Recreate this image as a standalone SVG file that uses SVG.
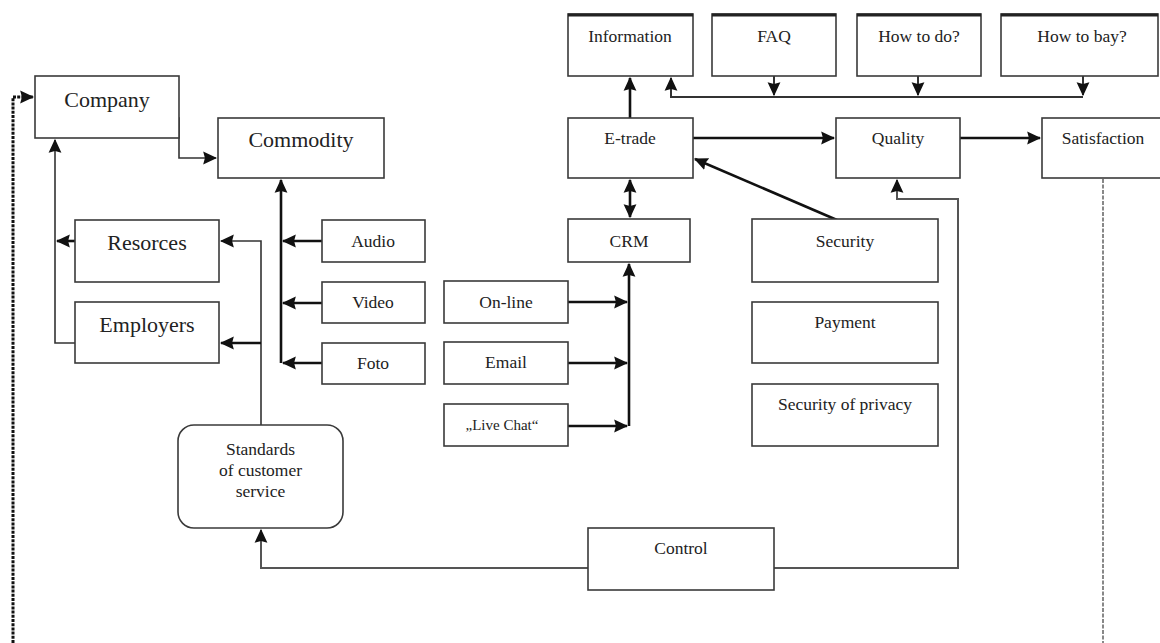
<svg xmlns="http://www.w3.org/2000/svg" width="1160" height="643" viewBox="0 0 1160 643">
<defs>
<marker id="ah" viewBox="0 0 12 12" refX="11" refY="6" markerWidth="14" markerHeight="14" markerUnits="userSpaceOnUse" orient="auto-start-reverse">
<path d="M0,0.5 L12,6 L0,11.5 L1.5,6 Z" fill="#111"/>
</marker>
</defs>
<style>
.box{fill:#fff;stroke:#3a3a3a;stroke-width:1.6}
.t{font-family:"Liberation Serif","Times New Roman",serif;fill:#222;text-anchor:middle}
.big{font-size:22px}
.mid{font-size:17.5px}
.sm{font-size:15px}
.c{fill:none;stroke:#111;stroke-width:2.6}
.cn{fill:none;stroke:#333;stroke-width:1.6}
.cg{fill:none;stroke:#555;stroke-width:2}
.top{stroke:#222;stroke-width:3}
</style>
<g id="connectors">
<path class="c" d="M13,643 V97 H33" style="stroke-dasharray:3 1.2;stroke-width:3" marker-end="url(#ah)"/>
<path class="cg" d="M1103,179 V643" style="stroke-dasharray:4 1.5;stroke:#888"/>
<path class="cn" d="M158,118 H179 V158 H216" marker-end="url(#ah)"/>
<path class="cn" d="M75,343 H55 V140" marker-end="url(#ah)"/>
<path class="c" d="M75,241 H57" marker-end="url(#ah)"/>
<path class="c" d="M281,363 V180" marker-end="url(#ah)"/>
<path class="c" d="M322,241 H283" marker-end="url(#ah)"/>
<path class="c" d="M322,303 H283" marker-end="url(#ah)"/>
<path class="c" d="M322,363 H283" marker-end="url(#ah)"/>
<path class="cn" d="M261,425 V241 H221" marker-end="url(#ah)"/>
<path class="c" d="M261,343 H221" marker-end="url(#ah)"/>
<path class="cg" d="M588,568 H261 V530" marker-end="url(#ah)"/>
<path class="cg" d="M774,568 H958 V199 H897 V180" marker-end="url(#ah)"/>
<path class="c" d="M630,180 V217" marker-start="url(#ah)" marker-end="url(#ah)"/>
<path class="c" d="M630,118 V78" marker-end="url(#ah)"/>
<path class="cn" d="M1083,97 H671 V78" style="stroke-width:2" marker-end="url(#ah)"/>
<path class="cn" d="M774,76 V95" style="stroke-width:2" marker-end="url(#ah)"/>
<path class="cn" d="M918,76 V95" style="stroke-width:2" marker-end="url(#ah)"/>
<path class="cn" d="M1083,76 V95" style="stroke-width:2" marker-end="url(#ah)"/>
<path class="c" d="M693,138 H834" marker-end="url(#ah)"/>
<path class="c" d="M960,138 H1040" marker-end="url(#ah)"/>
<path class="c" d="M837,220 L695,159" marker-end="url(#ah)"/>
<path class="c" d="M568,302 H627" marker-end="url(#ah)"/>
<path class="c" d="M568,363 H627" marker-end="url(#ah)"/>
<path class="c" d="M568,426 H627" marker-end="url(#ah)"/>
<path class="c" d="M629,426 V264" marker-end="url(#ah)"/>
</g>
<g id="company"><rect class="box" x="35" y="76" width="144" height="62"/><text class="t big" x="107" y="107">Company</text></g>
<g id="commodity"><rect class="box" x="218" y="118" width="166" height="60"/><text class="t big" x="301" y="147">Commodity</text></g>
<g id="resorces"><rect class="box" x="75" y="220" width="144" height="62"/><text class="t big" x="147" y="250">Resorces</text></g>
<g id="employers"><rect class="box" x="75" y="302" width="144" height="61"/><text class="t big" x="147" y="332">Employers</text></g>
<g id="audio"><rect class="box" x="322" y="220" width="103" height="42"/><text class="t mid" x="373" y="247">Audio</text></g>
<g id="video"><rect class="box" x="322" y="282" width="103" height="41"/><text class="t mid" x="373" y="308">Video</text></g>
<g id="foto"><rect class="box" x="322" y="343" width="103" height="41"/><text class="t mid" x="373" y="369">Foto</text></g>
<g id="standards"><rect class="box" x="178" y="425" width="165" height="103" rx="16"/><text class="t mid" x="260.5" y="455">Standards</text><text class="t mid" x="260.5" y="476">of customer</text><text class="t mid" x="260.5" y="497">service</text></g>
<g id="online"><rect class="box" x="444" y="281" width="124" height="42"/><text class="t mid" x="506" y="308">On-line</text></g>
<g id="email"><rect class="box" x="444" y="342" width="124" height="42"/><text class="t mid" x="506" y="368">Email</text></g>
<g id="livechat"><rect class="box" x="444" y="404" width="124" height="42"/><text class="t sm" x="502" y="430">„Live Chat“</text></g>
<g id="crm"><rect class="box" x="568" y="219" width="122" height="43"/><text class="t mid" x="629" y="247">CRM</text></g>
<g id="information"><rect class="box" x="568" y="14" width="125" height="62"/><line class="top" x1="568" y1="15" x2="693" y2="15"/><text class="t mid" x="630" y="42">Information</text></g>
<g id="faq"><rect class="box" x="712" y="14" width="124" height="62"/><line class="top" x1="712" y1="15" x2="836" y2="15"/><text class="t mid" x="774" y="42">FAQ</text></g>
<g id="howtodo"><rect class="box" x="857" y="14" width="124" height="62"/><line class="top" x1="857" y1="15" x2="981" y2="15"/><text class="t mid" x="919" y="42">How to do?</text></g>
<g id="howtobay"><rect class="box" x="1001" y="14" width="157" height="62"/><line class="top" x1="1001" y1="15" x2="1158" y2="15"/><text class="t mid" x="1082" y="42">How to bay?</text></g>
<g id="etrade"><rect class="box" x="568" y="118" width="125" height="60"/><text class="t mid" x="630" y="144">E-trade</text></g>
<g id="quality"><rect class="box" x="836" y="118" width="124" height="60"/><text class="t mid" x="898" y="144">Quality</text></g>
<g id="satisfaction"><rect class="box" x="1042" y="118" width="122" height="60"/><text class="t mid" x="1103" y="144">Satisfaction</text></g>
<g id="security"><rect class="box" x="752" y="219" width="186" height="63"/><text class="t mid" x="845" y="247">Security</text></g>
<g id="payment"><rect class="box" x="752" y="302" width="186" height="61"/><text class="t mid" x="845" y="328">Payment</text></g>
<g id="privacy"><rect class="box" x="752" y="384" width="186" height="62"/><text class="t mid" x="845" y="410">Security of privacy</text></g>
<g id="control"><rect class="box" x="588" y="528" width="186" height="62"/><text class="t mid" x="681" y="554">Control</text></g>
</svg>
